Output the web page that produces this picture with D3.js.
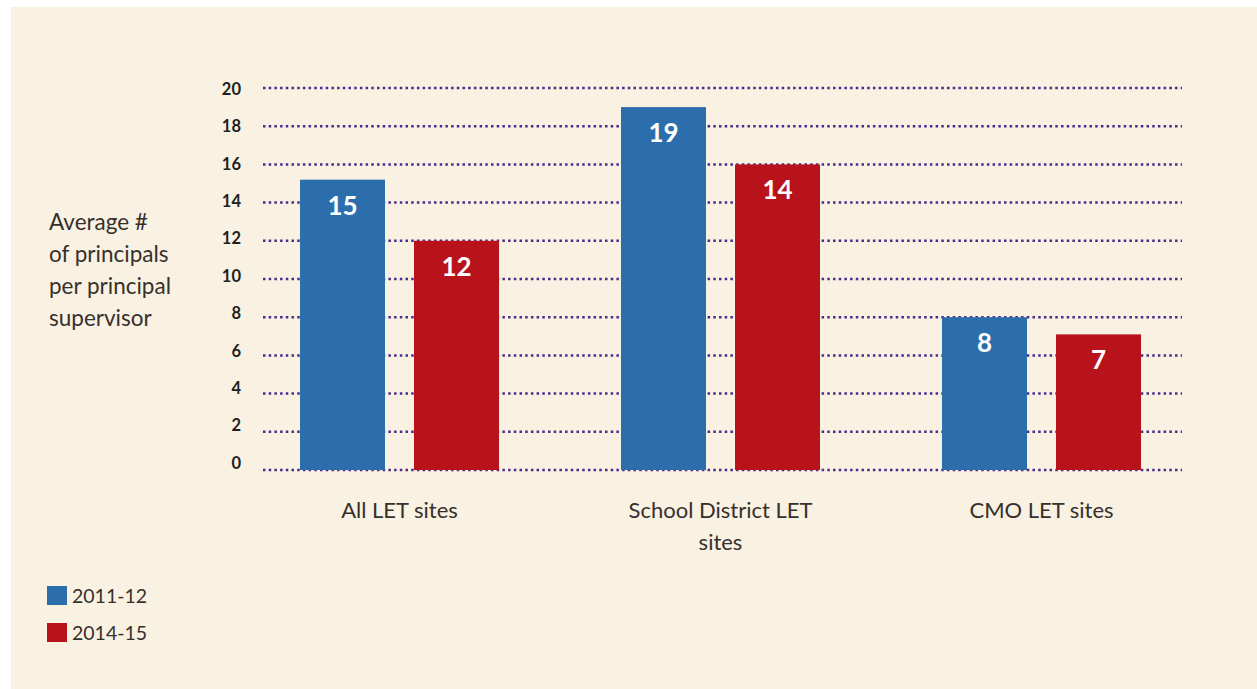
<!DOCTYPE html>
<html>
<head>
<meta charset="utf-8">
<script src="https://cdn.jsdelivr.net/npm/d3@7"></script>
<style>
  body { margin: 0; background: #fff; }
  text { font-family: Lato, "Open Sans", sans-serif; }
</style>
</head>
<body>
<script>
// Data
var categories = ["All LET sites", "School District LET sites", "CMO LET sites"];
var categoryLines = [["All LET sites"], ["School District LET", "sites"], ["CMO LET sites"]];
var series = ["2011-12", "2014-15"];
var values2011 = [15.2, 19, 8];
var values2015 = [12, 16, 7.1];
// printed labels (as shown on the bars)
var labels2011 = ["15", "19", "8"];
var labels2015 = ["12", "14", "7"];
var yTicks = [0, 2, 4, 6, 8, 10, 12, 14, 16, 18, 20];
var yTitle = ["Average #", "of principals", "per principal", "supervisor"];

var colors = {"2011-12": "#2b6eab", "2014-15": "#b8121b"};

var W = 1257, H = 689;

var svg = d3.select("body").append("svg")
    .attr("width", W)
    .attr("height", H);

// cream panel
svg.append("rect")
    .attr("x", 11).attr("y", 7)
    .attr("width", W - 11).attr("height", H - 7)
    .attr("fill", "#f9f1e1");

// scales
var y = d3.scaleLinear().domain([0, 20]).range([470, 88]);
// tick labels sit on a slightly tighter spacing than the grid
var yLab = d3.scaleLinear().domain([0, 20]).range([463, 89]);

var x0 = d3.scaleBand()
    .domain(categories)
    .range([239, 1202])
    .paddingInner(0.38)
    .paddingOuter(0.19);

var x1 = d3.scaleBand()
    .domain(series)
    .range([0, x0.bandwidth()])
    .paddingInner(0.2544);

// gridlines
svg.append("g").selectAll("line")
    .data(yTicks)
    .enter()
    .append("line")
    .attr("x1", 263).attr("x2", 1182)
    .attr("y1", function(d) { return y(d); })
    .attr("y2", function(d) { return y(d); })
    .attr("stroke", "#4a2c8c")
    .attr("stroke-width", 2.5)
    .attr("stroke-dasharray", "2.5 3.2");

// y tick labels
var yAxis = d3.axisLeft(yLab).tickValues(yTicks).tickSize(0).tickPadding(0);
var gy = svg.append("g")
    .attr("transform", "translate(241,0)")
    .call(yAxis);
gy.select(".domain").remove();
gy.selectAll("text")
    .attr("font-family", "Lato, sans-serif")
    .attr("font-size", "16.5px")
    .attr("font-weight", "bold")
    .attr("fill", "#231f20");

// bars
var rows = categories.map(function(c, i) {
    return [
        {cat: c, s: "2011-12", v: values2011[i], lab: labels2011[i]},
        {cat: c, s: "2014-15", v: values2015[i], lab: labels2015[i]}
    ];
});

var groups = svg.append("g").selectAll("g")
    .data(rows)
    .enter()
    .append("g")
    .attr("transform", function(d) { return "translate(" + x0(d[0].cat) + ",0)"; });

groups.selectAll("rect")
    .data(function(d) { return d; })
    .enter()
    .append("rect")
    .attr("x", function(d) { return x1(d.s); })
    .attr("y", function(d) { return y(d.v); })
    .attr("width", x1.bandwidth())
    .attr("height", function(d) { return y(0) - y(d.v); })
    .attr("fill", function(d) { return colors[d.s]; });

groups.selectAll("text")
    .data(function(d) { return d; })
    .enter()
    .append("text")
    .attr("x", function(d) { return x1(d.s) + x1.bandwidth() / 2; })
    .attr("y", function(d) { return y(d.v) + 35; })
    .attr("text-anchor", "middle")
    .attr("font-size", "26px")
    .attr("font-weight", "bold")
    .attr("fill", "#fff")
    .text(function(d) { return d.lab; });

// category labels
var cat = svg.append("g").selectAll("text")
    .data(categories)
    .enter()
    .append("text")
    .attr("x", function(d) { return x0(d) + x0.bandwidth() / 2; })
    .attr("y", 518)
    .attr("text-anchor", "middle")
    .attr("font-size", "22px")
    .attr("fill", "#36302d");

cat.each(function(d, i) {
    var t = d3.select(this);
    categoryLines[i].forEach(function(line, j) {
        t.append("tspan")
            .attr("x", x0(d) + x0.bandwidth() / 2)
            .attr("dy", j === 0 ? 0 : 32)
            .text(line);
    });
});

// y axis title
svg.append("g").selectAll("text")
    .data(yTitle)
    .enter()
    .append("text")
    .attr("x", 49)
    .attr("y", function(d, i) { return 230 + i * 32; })
    .attr("font-size", "22.5px")
    .attr("fill", "#36302d")
    .text(function(d) { return d; });

// legend
var legend = svg.append("g").selectAll("g")
    .data(series)
    .enter()
    .append("g")
    .attr("transform", function(d, i) { return "translate(47," + (586 + i * 37) + ")"; });

legend.append("rect")
    .attr("width", 20).attr("height", 19)
    .attr("fill", function(d) { return colors[d]; });

legend.append("text")
    .attr("x", 25).attr("y", 17)
    .attr("font-size", "19.5px")
    .attr("fill", "#36302d")
    .text(function(d) { return d; });
</script>
</body>
</html>
